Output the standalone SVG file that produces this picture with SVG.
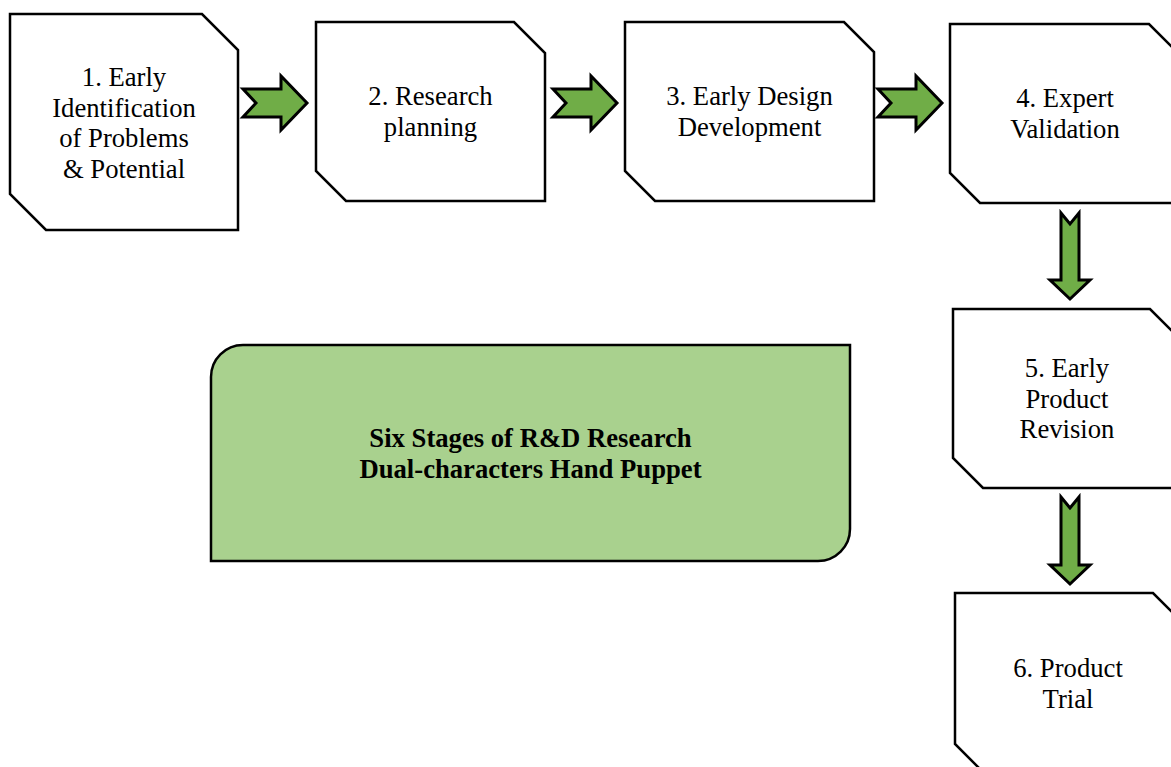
<svg xmlns="http://www.w3.org/2000/svg" width="1171" height="767" viewBox="0 0 1171 767">
<style>
.box{fill:#ffffff;stroke:#000000;stroke-width:2.5;stroke-linejoin:miter}
.main{fill:#A9D18E;stroke:#000000;stroke-width:2.5}
.arr{fill:#70AD47;stroke:#000000;stroke-width:3;stroke-linejoin:miter}
.t{font-family:"Liberation Serif","Times New Roman",serif;font-size:26.67px;fill:#000000;text-anchor:middle}
.b{font-weight:bold}
</style>
<rect width="1171" height="767" fill="#ffffff"/>
<g id="node1">
<polygon class="box" points="10,14 202,14 238,50 238,230 46,230 10,194"/>
<text class="t"><tspan x="124" y="86">1. Early</tspan><tspan x="124" y="116.7">Identification</tspan><tspan x="124" y="147.4">of Problems</tspan><tspan x="124" y="178">&amp; Potential</tspan></text>
</g>
<g id="node2">
<polygon class="box" points="316,22 514,22 545,53 545,201 346,201 316,171"/>
<text class="t"><tspan x="430.5" y="105.2">2. Research</tspan><tspan x="430.5" y="135.9">planning</tspan></text>
</g>
<g id="node3">
<polygon class="box" points="625,22 844,22 874,52 874,201 655,201 625,171"/>
<text class="t"><tspan x="749.5" y="105.2">3. Early Design</tspan><tspan x="749.5" y="135.9">Development</tspan></text>
</g>
<g id="node4">
<polygon class="box" points="950,24 1149,24 1180,55 1180,203 980,203 950,173"/>
<text class="t"><tspan x="1065" y="107.2">4. Expert</tspan><tspan x="1065" y="137.9">Validation</tspan></text>
</g>
<g id="node5">
<polygon class="box" points="953,309 1150,309 1181,340 1181,488 983,488 953,458"/>
<text class="t"><tspan x="1067" y="377">5. Early</tspan><tspan x="1067" y="407.7">Product</tspan><tspan x="1067" y="438.4">Revision</tspan></text>
</g>
<g id="node6">
<polygon class="box" points="955,593 1153,593 1183,623 1183,774 985,774 955,744"/>
<text class="t"><tspan x="1068" y="677">6. Product</tspan><tspan x="1068" y="707.7">Trial</tspan></text>
</g>
<g id="title">
<path class="main" d="M243,345 L850,345 L850,529 A32,32 0 0 1 818,561 L211,561 L211,377 A32,32 0 0 1 243,345 Z"/>
<text class="t b"><tspan x="530.5" y="447">Six Stages of R&amp;D Research</tspan><tspan x="530.5" y="477.7">Dual-characters Hand Puppet</tspan></text>
</g>
<g id="connectors">
<polygon class="arr" points="243,89 281,89 281,76 307,103 281,130 281,117 243,117 256,103"/>
<polygon class="arr" points="553,89 591,89 591,76 617,103 591,130 591,117 553,117 566,103"/>
<polygon class="arr" points="878,89 916,89 916,76 942,103 916,130 916,117 878,117 891,103"/>
<polygon class="arr" points="1061,213 1070,224 1079,213 1079,280 1090,280 1070,299 1050,280 1061,280"/>
<polygon class="arr" points="1061,497 1070,508 1079,497 1079,565 1090,565 1070,584 1050,565 1061,565"/>
</g>
</svg>
